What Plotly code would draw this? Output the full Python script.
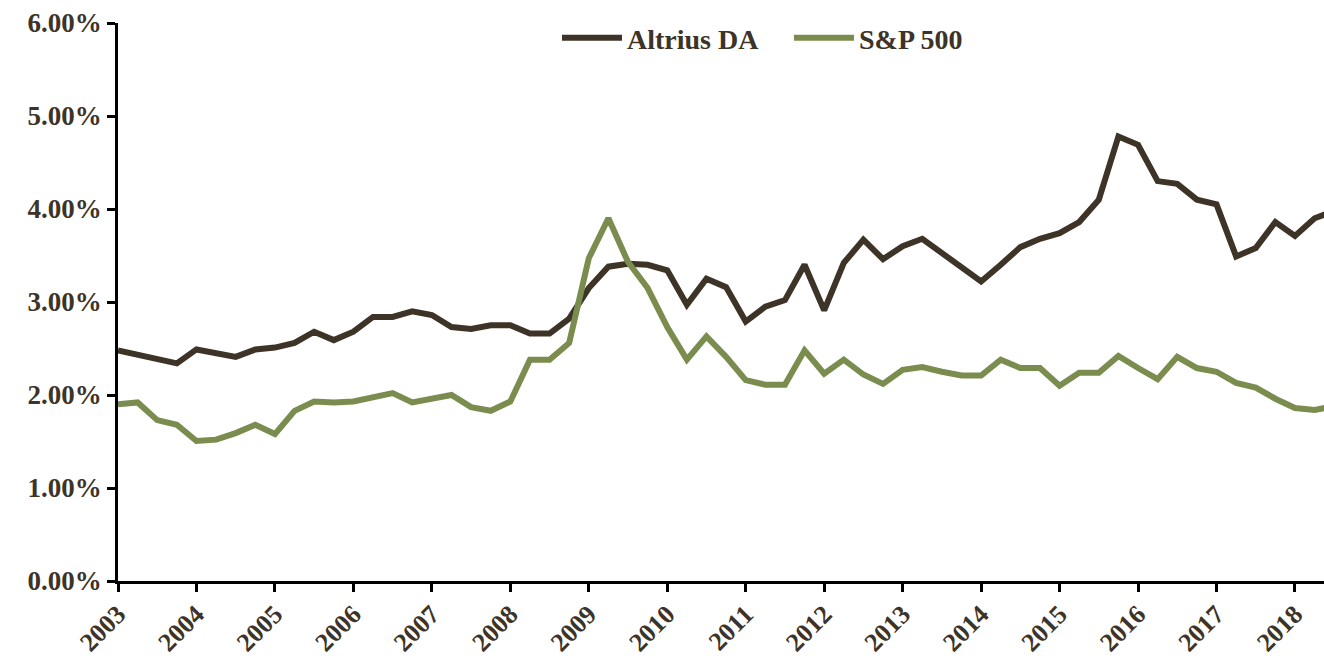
import plotly.graph_objects as go

# Quarterly observations starting Q1 2003
start_year = 2003
quarters = 63

altrius_da = [2.48, 2.43, 2.39, 2.34, 2.49, 2.45, 2.41, 2.49, 2.51, 2.56,
              2.68, 2.59, 2.68, 2.84, 2.84, 2.90, 2.86, 2.73, 2.71, 2.75,
              2.75, 2.66, 2.66, 2.82, 3.15, 3.38, 3.41, 3.40, 3.34, 2.97,
              3.25, 3.16, 2.79, 2.95, 3.02, 3.40, 2.91, 3.42, 3.67, 3.46,
              3.60, 3.68, 3.52, 3.37, 3.22, 3.40, 3.59, 3.68, 3.74, 3.86,
              4.10, 4.78, 4.69, 4.30, 4.27, 4.10, 4.05, 3.49, 3.58, 3.86,
              3.71, 3.90, 3.98]

sp500 = [1.90, 1.92, 1.73, 1.68, 1.505, 1.52, 1.59, 1.68, 1.58, 1.83,
         1.93, 1.92, 1.93, 1.975, 2.02, 1.92, 1.96, 2.00, 1.87, 1.83,
         1.93, 2.38, 2.38, 2.56, 3.47, 3.90, 3.43, 3.15, 2.73, 2.38,
         2.63, 2.41, 2.16, 2.11, 2.11, 2.48, 2.23, 2.38, 2.22, 2.12,
         2.27, 2.30, 2.25, 2.21, 2.21, 2.38, 2.29, 2.29, 2.10, 2.24,
         2.24, 2.42, 2.29, 2.17, 2.41, 2.29, 2.25, 2.13, 2.08, 1.96,
         1.86, 1.84, 1.88]

year_ticks = list(range(2003, 2019))
year_labels = [str(y) for y in year_ticks]
y_ticks = [0, 1, 2, 3, 4, 5, 6]
y_labels = ["%.2f%%" % v for v in y_ticks]

x = [start_year + i * 0.25 for i in range(quarters)]

DARK = "#3d3327"
GREEN = "#7b8c4f"
FONT = "Liberation Serif"

fig = go.Figure()
fig.add_trace(go.Scatter(x=x, y=altrius_da, mode="lines", name="Altrius DA",
                         line=dict(color=DARK, width=6)))
fig.add_trace(go.Scatter(x=x, y=sp500, mode="lines", name="S&P 500",
                         line=dict(color=GREEN, width=6)))

fig.update_layout(
    width=1324, height=658,
    margin=dict(l=118, r=0, t=23, b=77, autoexpand=False),
    paper_bgcolor="white", plot_bgcolor="white",
    font=dict(family=FONT, color=DARK, size=27),
    showlegend=True,
    legend=dict(orientation="h", x=0.364, xanchor="left", y=0.973, yanchor="middle",
                font=dict(family=FONT, size=28, color=DARK, weight="bold"),
                bgcolor="rgba(0,0,0,0)", itemwidth=60, tracegroupgap=0,
                entrywidth=157, entrywidthmode="pixels"),
)
fig.update_xaxes(
    range=[2003, 2018.37], tickmode="array", tickvals=year_ticks, ticktext=year_labels,
    tickangle=-45, ticks="outside", ticklen=8, tickwidth=2.5, tickcolor="black",
    showline=True, linecolor="black", linewidth=2.5, showgrid=False, zeroline=False,
    automargin=False, ticklabelstandoff=-3,
    tickfont=dict(family=FONT, size=26, color=DARK, weight="bold"),
)
fig.update_yaxes(
    range=[0, 6], tickmode="array", tickvals=y_ticks, ticktext=y_labels,
    ticks="outside", ticklen=8, tickwidth=2.5, tickcolor="black",
    showline=True, linecolor="black", linewidth=2.5, showgrid=False, zeroline=False,
    automargin=False,
    tickfont=dict(family=FONT, size=27, color=DARK, weight="bold"),
)

fig.write_html("out.html", config={"displayModeBar": False},
               post_script="document.body.style.margin='0';document.body.style.overflow='hidden';")
